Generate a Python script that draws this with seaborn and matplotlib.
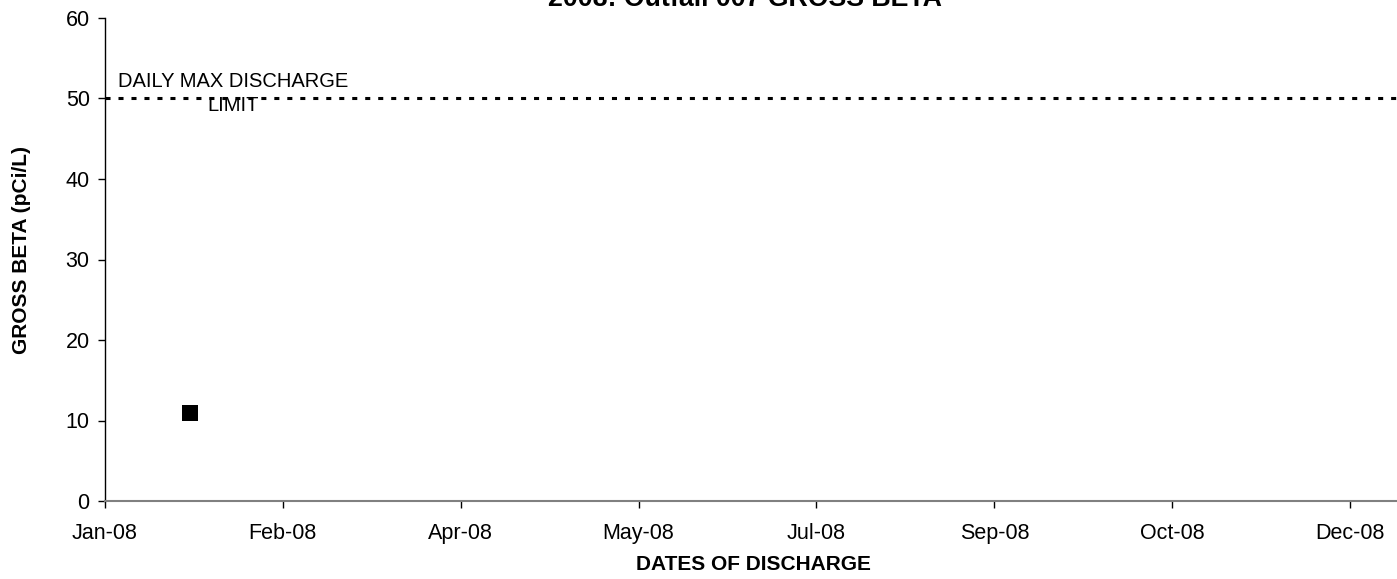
import matplotlib
matplotlib.use("Agg")
import matplotlib.pyplot as plt
import seaborn as sns
import pandas as pd

# Data
dates = ["2008-01-25"]
gross_beta = [10.9]
limit_value = 50
limit_label = "DAILY MAX DISCHARGE\nLIMIT"
tick_dates = ["2008-01-01", "2008-02-20", "2008-04-10", "2008-05-30",
              "2008-07-19", "2008-09-07", "2008-10-27", "2008-12-16"]
title = "2008: Outfall 007 GROSS BETA"
xlabel = "DATES OF DISCHARGE"
ylabel = "GROSS BETA (pCi/L)"

sns.set_style("white")
plt.rcParams['font.family'] = ['Liberation Sans', 'DejaVu Sans']
plt.rcParams['text.color'] = 'black'

df = pd.DataFrame({"date": pd.to_datetime(dates), "value": gross_beta})

W, H = 1397, 579
fig = plt.figure(figsize=(W / 100, H / 100), dpi=100)
ax = fig.add_axes([105 / W, 1 - 501 / H, 1 - 105 / W, (501 - 18) / H])

sns.scatterplot(data=df, x="date", y="value", marker="s", s=118,
                color="black", edgecolor="black", linewidth=0, ax=ax, zorder=3)

ax.axhline(limit_value, color="black", linestyle=(0, (1.65, 2.6)), linewidth=2.2, zorder=2)
ax.text(pd.Timestamp("2008-02-06"), 50.6, limit_label, ha="center", va="center",
        fontsize=14.5, linespacing=1.3, color="black")

start = pd.Timestamp("2008-01-01")
ax.set_xlim(start, start + pd.Timedelta(days=363.2))
ax.set_ylim(0, 60)
ax.set_yticks([0, 10, 20, 30, 40, 50, 60])
ticks = pd.to_datetime(tick_dates)
ax.set_xticks(ticks)
ax.set_xticklabels([t.strftime("%b-%y") for t in ticks])

ax.tick_params(axis="both", labelsize=15.5, direction="out", length=5, width=1,
               bottom=True, left=True, color="black", labelcolor="black")
ax.tick_params(axis="y", pad=6)
ax.tick_params(axis="x", pad=11)

for s in ["top", "right"]:
    ax.spines[s].set_visible(False)
ax.spines["left"].set_color("black")
ax.spines["left"].set_linewidth(1)
ax.spines["bottom"].set_color("#808080")
ax.spines["bottom"].set_linewidth(1.5)

ax.set_xlabel("")
ax.set_ylabel("")
fig.text(753 / W, 1 - 565 / H, xlabel, ha="center", va="center",
         fontsize=15, fontweight="bold", color="black")
fig.text(22 / W, 1 - 250 / H, ylabel, ha="center", va="center", rotation=90,
         fontsize=15, fontweight="bold", color="black")
fig.text(745 / W, 1 - 6 / H, title, ha="center", va="baseline",
         fontsize=19.3, fontweight="bold", color="black")

fig.savefig("out.png", dpi=100)
